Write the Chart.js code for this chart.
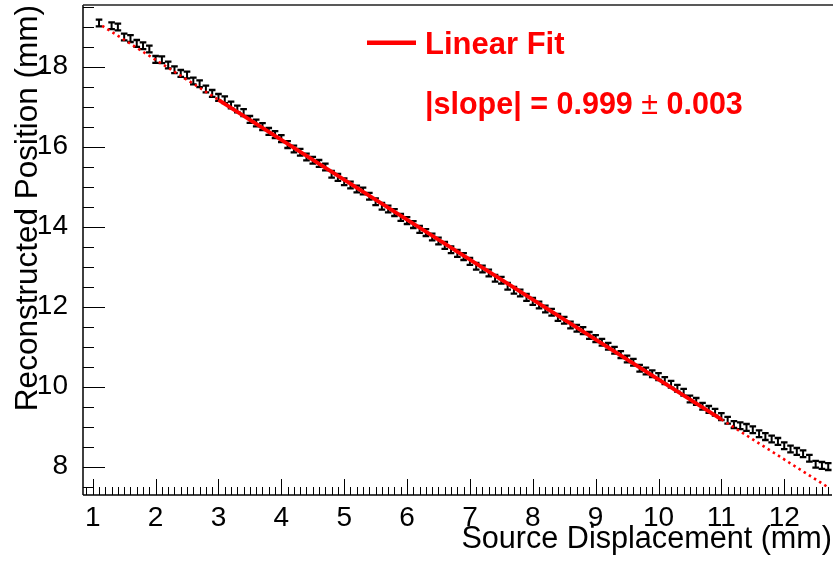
<!DOCTYPE html>
<html><head><meta charset="utf-8">
<script src="https://cdn.jsdelivr.net/npm/chart.js@4.4.0/dist/chart.umd.min.js"></script>
<style>html,body{margin:0;padding:0;background:#fff;overflow:hidden}canvas{display:block}</style>
</head><body>
<canvas id="c" width="833" height="561"></canvas>
<script>
// ---- data ----
const xValues = [1.1,1.3,1.4,1.5,1.6,1.7,1.8,1.9,2.0,2.1,2.2,2.3,2.4,2.5,2.6,2.7,2.8,2.9,3.0,3.1,3.2,3.3,3.4,3.5,3.6,3.7,3.8,3.9,4.0,4.1,4.2,4.3,4.4,4.5,4.6,4.7,4.8,4.9,5.0,5.1,5.2,5.3,5.4,5.5,5.6,5.7,5.8,5.9,6.0,6.1,6.2,6.3,6.4,6.5,6.6,6.7,6.8,6.9,7.0,7.1,7.2,7.3,7.4,7.5,7.6,7.7,7.8,7.9,8.0,8.1,8.2,8.3,8.4,8.5,8.6,8.7,8.8,8.9,9.0,9.1,9.2,9.3,9.4,9.5,9.6,9.7,9.8,9.9,10.0,10.1,10.2,10.3,10.4,10.5,10.6,10.7,10.8,10.9,11.0,11.1,11.2,11.3,11.4,11.5,11.6,11.7,11.8,11.9,12.0,12.1,12.2,12.3,12.4,12.5,12.6,12.7];
const yValues = [19.09,19.02,18.99,18.74,18.70,18.58,18.52,18.44,18.18,18.17,18.04,17.92,17.83,17.79,17.64,17.57,17.44,17.33,17.23,17.17,17.04,16.94,16.85,16.68,16.59,16.50,16.38,16.30,16.20,16.05,15.94,15.86,15.74,15.66,15.58,15.49,15.31,15.23,15.12,15.04,14.94,14.89,14.76,14.62,14.51,14.44,14.35,14.23,14.15,14.05,13.93,13.85,13.74,13.64,13.53,13.42,13.33,13.25,13.13,13.01,12.94,12.84,12.71,12.66,12.51,12.41,12.34,12.23,12.13,12.04,11.94,11.86,11.73,11.66,11.54,11.46,11.40,11.28,11.20,11.11,11.01,10.91,10.80,10.69,10.61,10.46,10.39,10.32,10.25,10.15,10.06,9.96,9.86,9.69,9.63,9.51,9.43,9.36,9.25,9.16,9.05,9.02,8.98,8.92,8.82,8.75,8.69,8.63,8.52,8.44,8.38,8.32,8.21,8.06,8.03,8.00];
const yError = 0.085;
// linear fit (solid in fit range, dotted extrapolation)
const fitSolidX = [3.0, 11.0];
const fitSolidY = [17.17, 9.18];
const fitLeftX = [1.15, 3.0];
const fitLeftY = [19.02, 17.17];
const fitRightX = [11.0, 12.72];
const fitRightY = [9.18, 7.46];
const xTickLabels = [1,2,3,4,5,6,7,8,9,10,11,12];
const yTickLabels = [8,10,12,14,16,18];
const xTitle = 'Source Displacement (mm)';
const yTitle = 'Reconstructed Position (mm)';
const legendLabel = 'Linear Fit';
const slopeParts = ['|slope| = 0.999 ', '\u00B1', ' 0.003'];

const FONT = "'Liberation Sans', Arial, Helvetica, sans-serif";
const toXY = (xs, ys) => xs.map((x, i) => ({x: x, y: ys[i]}));

const decorPlugin = {
  id: 'decor',
  beforeDatasetsDraw(chart) {
    const ctx = chart.ctx, xs = chart.scales.x, ys = chart.scales.y;
    ctx.save();
    ctx.strokeStyle = '#000';
    for (let i = 0; i < xValues.length; i++) {
      const px = xs.getPixelForValue(xValues[i]);
      const pt = ys.getPixelForValue(yValues[i] + yError);
      const pb = ys.getPixelForValue(yValues[i] - yError);
      ctx.lineWidth = 2;
      ctx.beginPath(); ctx.moveTo(px, pt); ctx.lineTo(px, pb); ctx.stroke();
      ctx.lineWidth = 2.3;
      ctx.beginPath();
      ctx.moveTo(px - 3.3, pt); ctx.lineTo(px + 3.3, pt);
      ctx.moveTo(px - 3.3, pb); ctx.lineTo(px + 3.3, pb);
      ctx.stroke();
    }
    ctx.restore();
  },
  afterDraw(chart) {
    const ctx = chart.ctx, xs = chart.scales.x, ys = chart.scales.y;
    const a = chart.chartArea;
    ctx.save();
    ctx.strokeStyle = '#000';
    ctx.lineWidth = 1.5;
    ctx.beginPath();
    ctx.moveTo(a.left, a.top); ctx.lineTo(a.left, a.bottom);
    ctx.moveTo(a.left, a.bottom); ctx.lineTo(a.right, a.bottom);
    ctx.stroke();
    ctx.strokeStyle = '#222';
    ctx.lineWidth = 1.6;
    ctx.beginPath(); ctx.moveTo(a.left, a.top); ctx.lineTo(a.right + 1, a.top); ctx.stroke();
    // x ticks (inward)
    ctx.strokeStyle = '#000';
    ctx.lineWidth = 1;
    ctx.beginPath();
    for (let k = 9; k <= 127; k++) {
      const v = k / 10;
      const p = Math.round(xs.getPixelForValue(v)) + 0.5;
      const len = (k % 10 === 0) ? 16 : 8;
      ctx.moveTo(p, a.bottom); ctx.lineTo(p, a.bottom - len);
    }
    // y ticks (inward)
    for (let k = 15; k <= 39; k++) {
      const v = k / 2;
      const p = Math.round(ys.getPixelForValue(v)) + 0.5;
      const len = (k % 4 === 0) ? 22 : 11;
      ctx.moveTo(a.left, p); ctx.lineTo(a.left + len, p);
    }
    ctx.stroke();
    // legend
    ctx.strokeStyle = '#ff0000';
    ctx.lineWidth = 4.5;
    ctx.beginPath(); ctx.moveTo(367, 42.7); ctx.lineTo(416, 42.7); ctx.stroke();
    ctx.fillStyle = '#ff0000';
    ctx.textBaseline = 'alphabetic';
    ctx.textAlign = 'left';
    ctx.font = 'bold 31px ' + FONT;
    ctx.fillText(legendLabel, 425, 54.3);
    let x = 425;
    ctx.font = 'bold 30.5px ' + FONT;
    ctx.fillText(slopeParts[0], x, 114.3); x += ctx.measureText(slopeParts[0]).width;
    ctx.font = '30.5px ' + FONT;
    ctx.fillText(slopeParts[1], x, 114.3); x += ctx.measureText(slopeParts[1]).width;
    ctx.font = 'bold 30.5px ' + FONT;
    ctx.fillText(slopeParts[2], x, 114.3);
    ctx.restore();
  }
};

new Chart(document.getElementById('c'), {
  type: 'scatter',
  data: {
    datasets: [
      { label: 'Linear Fit', data: toXY(fitSolidX, fitSolidY), showLine: true, borderColor: '#ff0000', borderWidth: 3.8, pointRadius: 0, order: 0 },
      { label: 'fit extrapolation left', data: toXY(fitLeftX, fitLeftY), showLine: true, borderColor: '#ff0000', borderWidth: 2.6, borderDash: [2.5, 3.6], pointRadius: 0, order: 1 },
      { label: 'fit extrapolation right', data: toXY(fitRightX, fitRightY), showLine: true, borderColor: '#ff0000', borderWidth: 2.6, borderDash: [2.5, 3.6], pointRadius: 0, order: 2 },
      { label: 'Data', data: toXY(xValues, yValues), pointRadius: 0, showLine: false, order: 3 }
    ]
  },
  options: {
    responsive: false,
    devicePixelRatio: 1,
    animation: false,
    events: [],
    layout: { padding: { top: 5, right: 1, left: 0, bottom: 0 } },
    plugins: { legend: { display: false }, tooltip: { enabled: false } },
    scales: {
      x: {
        type: 'linear', min: 0.845, max: 12.76,
        grid: { display: false }, border: { display: false },
        afterBuildTicks: s => { s.ticks = xTickLabels.map(v => ({ value: v })); },
        afterFit: s => { s.height = 66; s.paddingLeft = 0; s.paddingRight = 0; },
        ticks: { autoSkip: false, maxRotation: 0, padding: 1, color: '#000', font: { family: FONT, size: 28, lineHeight: 1.0 }, callback: v => String(v) },
        title: { display: true, text: xTitle, align: 'end', color: '#000', font: { family: FONT, size: 30.6 }, padding: { top: 0, bottom: 3 } }
      },
      y: {
        type: 'linear', min: 7.29, max: 19.54,
        grid: { display: false }, border: { display: false },
        afterBuildTicks: s => { s.ticks = yTickLabels.map(v => ({ value: v })); },
        afterFit: s => { s.width = 83; s.paddingTop = 0; s.paddingBottom = 0; },
        ticks: { autoSkip: false, padding: 7, color: '#000', font: { family: FONT, size: 28 }, callback: v => String(v) },
        title: { display: true, text: yTitle, align: 'end', color: '#000', font: { family: FONT, size: 31.5 }, padding: { top: 9, bottom: 0 } }
      }
    }
  },
  plugins: [decorPlugin]
});
</script>
</body></html>
